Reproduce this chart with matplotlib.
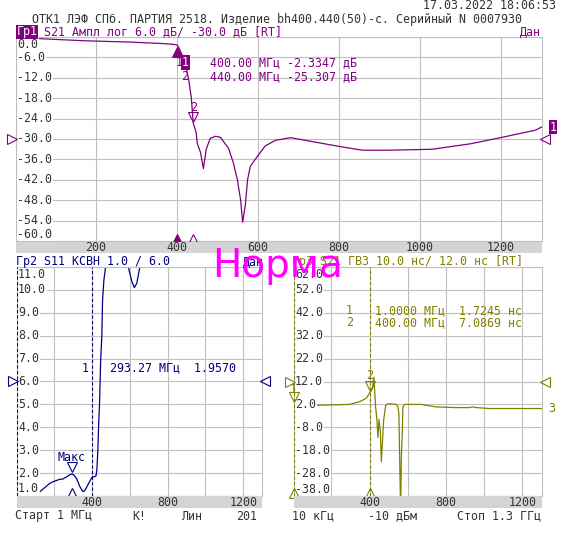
import matplotlib
matplotlib.use('Agg')
import matplotlib.pyplot as plt
from matplotlib import transforms

# S21 amplitude, dB (Гр1)
s21_f = [1, 50, 80, 170, 285, 360, 385, 400, 405, 410, 415, 420, 428, 435, 440,
         447, 450, 458, 465, 472, 482, 495, 507, 527, 539, 549, 557, 562, 569,
         574, 581, 599, 618, 643, 680, 801, 858, 920, 1001, 1031, 1125, 1199,
         1285, 1300]
s21_db = [-0.4, -0.4, -0.6, -1.1, -1.5, -1.9, -2.1, -2.33, -3.3, -4.6, -6.0,
          -7.8, -12.0, -17.7, -25.3, -28.0, -31.3, -34.0, -38.7, -33.0, -29.8,
          -29.2, -29.5, -32.7, -37.0, -42.0, -48.0, -54.5, -49.0, -42.0, -38.0,
          -35.0, -32.0, -30.4, -29.6, -32.2, -33.3, -33.3, -33.1, -33.0, -31.4,
          -29.6, -27.4, -26.5]

# S11 VSWR (Гр2)
s11_f = [1, 60, 100, 115, 135, 177, 193, 230, 246, 266, 288, 293, 304, 318, 336,
         352, 362, 378, 400, 410, 421, 426, 431, 435, 440, 446, 452, 456, 463,
         472, 490, 560, 592, 611, 624, 637, 653, 700, 1300]
s11_vswr = [1.0, 1.0, 1.0, 1.12, 1.26, 1.55, 1.62, 1.73, 1.74, 1.84, 1.95, 1.957,
            1.92, 1.77, 1.41, 1.19, 1.23, 1.48, 1.82, 1.84, 1.87, 2.14, 3.0, 4.03,
            5.05, 6.94, 7.96, 9.56, 10.43, 11.0, 14.0, 14.0, 11.0, 10.36, 10.1,
            10.29, 11.0, 16.0, 20.0]

# S21 group delay, ns (Гр3)
gd_f = [1, 118, 206, 295, 348, 383, 400, 415, 422, 431, 438, 443, 449, 456, 461,
        466, 473, 484, 496, 539, 548, 553, 557, 562, 566, 571, 574, 583, 670,
        748, 853, 922, 940, 960, 1027, 1300]
gd_ns = [1.72, 1.6, 1.8, 2.0, 3.2, 4.7, 7.09, 9.0, 13.9, 1.0, -4.6, -12.4, -4.6,
         -10.0, -23.0, -16.0, -5.0, 1.6, 2.3, 2.0, 0.9, -2.0, -20.8, -45.0,
         -20.8, -10.0, 0.9, 2.0, 2.0, 0.9, 0.6, 0.6, 0.9, 0.6, 0.2, 0.2]

freq_ticks = [200, 400, 600, 800, 1000, 1200]
bar_top_ticks = [200, 400, 600, 800, 1000, 1200]
bar_bot_ticks = [400, 800, 1200]

W, H = 580, 550
PURPLE = '#800080'
NAVY = '#000080'
OLIVE = '#808000'
GRID = '#c0c0c0'
BAR = '#d4d4d4'
TXT = '#333333'
MONO = 'DejaVu Sans Mono'
FS = 8.4

fig = plt.figure(figsize=(W / 100, H / 100), dpi=100)


def panel(l, t, r, b):
    return fig.add_axes([l / W, 1 - b / H, (r - l) / W, (b - t) / H])


def ftext(x, y, s, **kw):
    kw.setdefault('family', MONO)
    kw.setdefault('size', FS)
    kw.setdefault('va', 'center')
    return fig.text(x / W, 1 - y / H, s, **kw)


def shift(ax, dx, dy, base=None):
    base = ax.transData if base is None else base
    return base + transforms.ScaledTranslation(dx / 100, dy / 100, fig.dpi_scale_trans)


def setup(ax, ylim, step, fmt):
    ax.set_xlim(1, 1300)
    ax.set_ylim(*ylim)
    n = int(round((ylim[1] - ylim[0]) / step))
    yt = [ylim[0] + i * step for i in range(n + 1)]
    ax.set_xticks(freq_ticks)
    ax.set_yticks(yt)
    ax.tick_params(length=0, labelbottom=False, labelleft=False)
    ax.grid(True, color=GRID, lw=0.8)
    ax.set_axisbelow(True)
    for s in ax.spines.values():
        s.set_color(GRID)
        s.set_linewidth(0.8)
        s.set_zorder(6)
    blend = transforms.blended_transform_factory(ax.transAxes, ax.transData)
    for v in yt:
        if v == yt[-1]:
            va, dy = 'top', -1.5
        elif v == yt[0]:
            va, dy = 'bottom', 0.5
        else:
            va, dy = 'center', 0
        ax.text(0, v, fmt.format(v), transform=shift(ax, 1.5, dy, blend), va=va,
                ha='left', family=MONO, size=FS, color=TXT, zorder=5,
                bbox=dict(fc='white', ec='none', pad=0.4))


def bar(l, t, r, b, ticks):
    bx = panel(l, t, r, b)
    bx.set_xlim(1, 1300)
    bx.set_ylim(0, 1)
    bx.set_facecolor(BAR)
    bx.set_xticks([])
    bx.set_yticks([])
    for s in bx.spines.values():
        s.set_visible(False)
    for tk in ticks:
        bx.text(tk, 0.5, str(tk), ha='center', va='center', family=MONO,
                size=FS, color=TXT)
    return bx


def tri(ax, x, y, m, color, dx=0, dy=0, filled=False, ms=6.5):
    ax.plot([x], [y], marker=m, ms=ms, color=color, mec=color,
            mfc=color if filled else 'none', mew=0.8, ls='none',
            transform=shift(ax, dx, dy), clip_on=False, zorder=7)


def lbl(ax, x, y, s, color, dx=0, dy=0, **kw):
    ax.text(x, y, s, transform=shift(ax, dx, dy), ha='center', va='center',
            family=MONO, size=FS, color=color, zorder=7, clip_on=False, **kw)


# ---- top panel: S21 log magnitude
ax1 = panel(15.5, 37, 541.5, 241)
setup(ax1, (-60, 0), 6, '{:.1f}')
ax1.plot(s21_f, s21_db, color=PURPLE, lw=0.9, zorder=3)
bar(15.5, 242, 541.5, 253, bar_top_ticks)

tri(ax1, 400, s21_db[s21_f.index(400)], '^', PURPLE, dy=-7.5, filled=True)
tri(ax1, 440, s21_db[s21_f.index(440)], 'v', PURPLE, dy=6)
lbl(ax1, 440, s21_db[s21_f.index(440)], '2', PURPLE, dy=16)
tri(ax1, 400, -60, '^', PURPLE, dy=2.5, filled=True)
tri(ax1, 440, -60, '^', PURPLE, dy=2.5)
tri(ax1, 1, -30, '>', PURPLE, dx=-4)
tri(ax1, 1300, -30, '<', PURPLE, dx=3.5)
lbl(ax1, 1300, s21_db[-1], '1', 'white', dx=11.5,
    bbox=dict(fc=PURPLE, ec='none', pad=0.6))

# ---- bottom-left: S11 VSWR
ax2 = panel(16.5, 267, 262.2, 496)
setup(ax2, (1, 11), 1, '{:.1f}')
for fx in (1, 400):
    ax2.axvline(fx, color=NAVY, lw=0.8, ls=(0, (3, 2)), zorder=7)
ax2.plot(s11_f, s11_vswr, color=NAVY, lw=0.9, zorder=3)
bar(16.5, 496, 262.2, 508, bar_bot_ticks)
tri(ax2, 293, 1.957, 'v', NAVY, dy=6.6)
lbl(ax2, 293, 1.957, 'Макс', NAVY, dy=17)
tri(ax2, 293, 1, '^', NAVY, dy=3.5)
tri(ax2, 1, 6, '>', NAVY, dx=-4)
tri(ax2, 1300, 6, '<', NAVY, dx=3.3)

# ---- bottom-right: S21 group delay
ax3 = panel(293.5, 267, 541.5, 496)
setup(ax3, (-38, 62), 10, '{:.1f}')
for fx in (1, 400):
    ax3.axvline(fx, color=OLIVE, lw=0.8, ls=(0, (3, 2)), zorder=7)
ax3.plot(gd_f, gd_ns, color=OLIVE, lw=0.9, zorder=3)
bar(293.5, 496, 541.5, 508, bar_bot_ticks)
tri(ax3, 1, 1.72, 'v', OLIVE, dy=8.5)
lbl(ax3, 1, 1.72, '1', OLIVE, dy=15.5)
tri(ax3, 400, 7.09, 'v', OLIVE, dy=6.7)
lbl(ax3, 400, 7.09, '2', OLIVE, dy=17)
tri(ax3, 1, -38, '^', OLIVE, dy=3.5)
tri(ax3, 400, -38, '^', OLIVE, dy=3.5)
tri(ax3, 1, 12, '>', OLIVE, dx=-3.5)
tri(ax3, 1300, 12, '<', OLIVE, dx=3.2)
lbl(ax3, 1300, gd_ns[-1], '3', OLIVE, dx=10.5)

# ---- text lines
ftext(556, 5.5, '17.03.2022 18:06:53', ha='right', color=TXT)
ftext(32, 19, 'ОТК1 ЛЭФ СПб. ПАРТИЯ 2518. Изделие bh400.440(50)-с. Серийный N 0007930',
      color=TXT)
ftext(16.5, 32, 'Гр1', color='white', bbox=dict(fc=PURPLE, ec='none', pad=0.6))
ftext(44, 32, 'S21 Ампл лог 6.0 дБ/ -30.0 дБ [RT]', color=PURPLE)
ftext(541, 32, 'Дан', ha='right', color=PURPLE)

ftext(175.5, 62.5, '1', color=PURPLE)
ftext(182, 62.5, '1', color='white', bbox=dict(fc=PURPLE, ec='none', pad=0.5))
ftext(210, 62.5, '400.00 МГц -2.3347 дБ', color=PURPLE)
ftext(181, 77, '2', color=PURPLE)
ftext(210, 77, '440.00 МГц -25.307 дБ', color=PURPLE)

ftext(16, 262, 'Гр2 S11 КСВН 1.0 / 6.0', color=NAVY)
ftext(243, 262, 'Дан', color=NAVY)
ftext(82, 368, '1', color=NAVY)
ftext(110, 368, '293.27 МГц  1.9570', color=NAVY)

ftext(292, 262, 'Гр3 S21 ГВЗ 10.0 нс/ 12.0 нс [RT]', color=OLIVE)
ftext(346, 311, '1', color=OLIVE)
ftext(375, 311, '1.0000 МГц  1.7245 нс', color=OLIVE)
ftext(346, 323, '2', color=OLIVE)
ftext(375, 323, '400.00 МГц  7.0869 нс', color=OLIVE)

ftext(15, 516, 'Старт 1 МГц', color=TXT)
ftext(132, 516, 'К!', color=TXT)
ftext(181, 516, 'Лин', color=TXT)
ftext(236, 516, '201', color=TXT)
ftext(291.5, 516, '10 кГц', color=TXT)
ftext(368, 516, '-10 дБм', color=TXT)
ftext(541, 516, 'Стоп 1.3 ГГц', ha='right', color=TXT)

ftext(278, 277, 'Норма', family='DejaVu Sans', size=28, color='#ff00ff',
      ha='center', va='baseline', zorder=10)

fig.savefig('out.png', dpi=100)
